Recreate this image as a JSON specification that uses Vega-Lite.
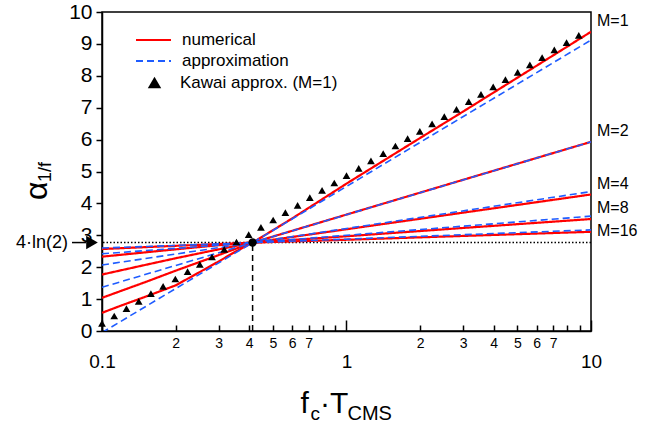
{
  "$schema": "https://vega.github.io/schema/vega-lite/v6.json",
  "width": 489,
  "height": 319,
  "autosize": {"type": "none"},
  "padding": {"left": 102, "top": 12, "right": 67, "bottom": 97},
  "config": {
    "view": {"stroke": "black", "strokeWidth": 1.5},
    "font": "Liberation Sans",
    "axis": {"grid": false, "domainColor": "black", "domainWidth": 1.5, "tickColor": "black", "tickWidth": 1.5, "labelColor": "black", "labelFont": "Liberation Sans"},
    "legend": {"labelFont": "Liberation Sans", "labelColor": "black"}
  },
  "datasets": {
    "one": [{}],
    "lines": [
      {"s": "numerical", "M": 1, "x": 0.1, "y": 0.57},
      {"s": "numerical", "M": 1, "x": 0.12, "y": 0.80},
      {"s": "numerical", "M": 1, "x": 0.15, "y": 1.07},
      {"s": "numerical", "M": 1, "x": 0.2, "y": 1.43},
      {"s": "numerical", "M": 1, "x": 0.25, "y": 1.84},
      {"s": "numerical", "M": 1, "x": 0.3, "y": 2.18},
      {"s": "numerical", "M": 1, "x": 0.35, "y": 2.48},
      {"s": "numerical", "M": 1, "x": 0.413, "y": 2.77},
      {"s": "numerical", "M": 1, "x": 0.6, "y": 3.53},
      {"s": "numerical", "M": 1, "x": 1, "y": 4.62},
      {"s": "numerical", "M": 1, "x": 2, "y": 6.05},
      {"s": "numerical", "M": 1, "x": 3, "y": 6.88},
      {"s": "numerical", "M": 1, "x": 5, "y": 7.94},
      {"s": "numerical", "M": 1, "x": 10, "y": 9.38},
      {"s": "numerical", "M": 2, "x": 0.1, "y": 1.04},
      {"s": "numerical", "M": 2, "x": 0.15, "y": 1.53},
      {"s": "numerical", "M": 2, "x": 0.2, "y": 1.89},
      {"s": "numerical", "M": 2, "x": 0.25, "y": 2.16},
      {"s": "numerical", "M": 2, "x": 0.3, "y": 2.38},
      {"s": "numerical", "M": 2, "x": 0.35, "y": 2.57},
      {"s": "numerical", "M": 2, "x": 0.413, "y": 2.77},
      {"s": "numerical", "M": 2, "x": 1, "y": 3.65},
      {"s": "numerical", "M": 2, "x": 3, "y": 4.74},
      {"s": "numerical", "M": 2, "x": 10, "y": 5.93},
      {"s": "numerical", "M": 4, "x": 0.1, "y": 1.77},
      {"s": "numerical", "M": 4, "x": 0.15, "y": 2.07},
      {"s": "numerical", "M": 4, "x": 0.2, "y": 2.28},
      {"s": "numerical", "M": 4, "x": 0.3, "y": 2.56},
      {"s": "numerical", "M": 4, "x": 0.413, "y": 2.77},
      {"s": "numerical", "M": 4, "x": 1, "y": 3.19},
      {"s": "numerical", "M": 4, "x": 3, "y": 3.71},
      {"s": "numerical", "M": 4, "x": 10, "y": 4.28},
      {"s": "numerical", "M": 8, "x": 0.1, "y": 2.33},
      {"s": "numerical", "M": 8, "x": 0.2, "y": 2.56},
      {"s": "numerical", "M": 8, "x": 0.3, "y": 2.69},
      {"s": "numerical", "M": 8, "x": 0.413, "y": 2.77},
      {"s": "numerical", "M": 8, "x": 1, "y": 2.97},
      {"s": "numerical", "M": 8, "x": 3, "y": 3.23},
      {"s": "numerical", "M": 8, "x": 10, "y": 3.51},
      {"s": "numerical", "M": 16, "x": 0.1, "y": 2.57},
      {"s": "numerical", "M": 16, "x": 0.2, "y": 2.67},
      {"s": "numerical", "M": 16, "x": 0.413, "y": 2.77},
      {"s": "numerical", "M": 16, "x": 1, "y": 2.86},
      {"s": "numerical", "M": 16, "x": 3, "y": 2.98},
      {"s": "numerical", "M": 16, "x": 10, "y": 3.11},
      {"s": "approximation", "M": 1, "x": 0.1, "y": -0.05},
      {"s": "approximation", "M": 1, "x": 0.413, "y": 2.77},
      {"s": "approximation", "M": 1, "x": 10, "y": 9.12},
      {"s": "approximation", "M": 2, "x": 0.1, "y": 1.37},
      {"s": "approximation", "M": 2, "x": 0.413, "y": 2.77},
      {"s": "approximation", "M": 2, "x": 10, "y": 5.93},
      {"s": "approximation", "M": 4, "x": 0.1, "y": 2.07},
      {"s": "approximation", "M": 4, "x": 0.413, "y": 2.77},
      {"s": "approximation", "M": 4, "x": 10, "y": 4.37},
      {"s": "approximation", "M": 8, "x": 0.1, "y": 2.42},
      {"s": "approximation", "M": 8, "x": 0.413, "y": 2.77},
      {"s": "approximation", "M": 8, "x": 10, "y": 3.60},
      {"s": "approximation", "M": 16, "x": 0.1, "y": 2.60},
      {"s": "approximation", "M": 16, "x": 0.413, "y": 2.77},
      {"s": "approximation", "M": 16, "x": 10, "y": 3.17}
    ],
    "kawai": [
      {"k": "Kawai approx. (M=1)", "x": 0.1, "y": 0.24},
      {"k": "Kawai approx. (M=1)", "x": 0.1122, "y": 0.47},
      {"k": "Kawai approx. (M=1)", "x": 0.1259, "y": 0.70},
      {"k": "Kawai approx. (M=1)", "x": 0.1413, "y": 0.93},
      {"k": "Kawai approx. (M=1)", "x": 0.1585, "y": 1.17},
      {"k": "Kawai approx. (M=1)", "x": 0.1778, "y": 1.40},
      {"k": "Kawai approx. (M=1)", "x": 0.1995, "y": 1.63},
      {"k": "Kawai approx. (M=1)", "x": 0.2239, "y": 1.86},
      {"k": "Kawai approx. (M=1)", "x": 0.2512, "y": 2.09},
      {"k": "Kawai approx. (M=1)", "x": 0.2818, "y": 2.32},
      {"k": "Kawai approx. (M=1)", "x": 0.3162, "y": 2.56},
      {"k": "Kawai approx. (M=1)", "x": 0.3548, "y": 2.79},
      {"k": "Kawai approx. (M=1)", "x": 0.3981, "y": 3.02},
      {"k": "Kawai approx. (M=1)", "x": 0.4467, "y": 3.25},
      {"k": "Kawai approx. (M=1)", "x": 0.5012, "y": 3.48},
      {"k": "Kawai approx. (M=1)", "x": 0.5623, "y": 3.71},
      {"k": "Kawai approx. (M=1)", "x": 0.6310, "y": 3.94},
      {"k": "Kawai approx. (M=1)", "x": 0.7079, "y": 4.18},
      {"k": "Kawai approx. (M=1)", "x": 0.7943, "y": 4.41},
      {"k": "Kawai approx. (M=1)", "x": 0.8913, "y": 4.64},
      {"k": "Kawai approx. (M=1)", "x": 1.0, "y": 4.87},
      {"k": "Kawai approx. (M=1)", "x": 1.122, "y": 5.10},
      {"k": "Kawai approx. (M=1)", "x": 1.259, "y": 5.33},
      {"k": "Kawai approx. (M=1)", "x": 1.413, "y": 5.56},
      {"k": "Kawai approx. (M=1)", "x": 1.585, "y": 5.80},
      {"k": "Kawai approx. (M=1)", "x": 1.778, "y": 6.03},
      {"k": "Kawai approx. (M=1)", "x": 1.995, "y": 6.26},
      {"k": "Kawai approx. (M=1)", "x": 2.239, "y": 6.49},
      {"k": "Kawai approx. (M=1)", "x": 2.512, "y": 6.72},
      {"k": "Kawai approx. (M=1)", "x": 2.818, "y": 6.95},
      {"k": "Kawai approx. (M=1)", "x": 3.162, "y": 7.19},
      {"k": "Kawai approx. (M=1)", "x": 3.548, "y": 7.42},
      {"k": "Kawai approx. (M=1)", "x": 3.981, "y": 7.65},
      {"k": "Kawai approx. (M=1)", "x": 4.467, "y": 7.88},
      {"k": "Kawai approx. (M=1)", "x": 5.012, "y": 8.11},
      {"k": "Kawai approx. (M=1)", "x": 5.623, "y": 8.34},
      {"k": "Kawai approx. (M=1)", "x": 6.310, "y": 8.57},
      {"k": "Kawai approx. (M=1)", "x": 7.079, "y": 8.81},
      {"k": "Kawai approx. (M=1)", "x": 7.943, "y": 9.04},
      {"k": "Kawai approx. (M=1)", "x": 8.913, "y": 9.27}
    ],
    "mlab": [
      {"label": "M=1", "y": 9.72},
      {"label": "M=2", "y": 6.27},
      {"label": "M=4", "y": 4.6},
      {"label": "M=8", "y": 3.87},
      {"label": "M=16", "y": 3.13}
    ]
  },
  "resolve": {"axis": {"x": "independent", "y": "independent"}},
  "layer": [
    {
      "data": {"name": "one"},
      "mark": {"type": "rule", "strokeDash": [1.5, 2], "strokeWidth": 1.5, "color": "black"},
      "encoding": {
        "y": {"datum": 2.7726, "type": "quantitative", "scale": {"domain": [0, 10], "nice": false, "zero": false}, "axis": null}
      }
    },
    {
      "data": {"name": "lines"},
      "transform": [{"filter": "datum.s == 'numerical'"}],
      "mark": {"type": "line", "strokeWidth": 2.2, "clip": true},
      "encoding": {
        "x": {"field": "x", "type": "quantitative", "scale": {"type": "log", "domain": [0.1, 10], "nice": false},
              "axis": {"orient": "bottom", "values": [0.1, 1, 10], "tickSize": -11, "labelFontSize": 19, "labelPadding": 32, "format": "~g", "labelFlush": false, "labelOverlap": false, "labelBound": false, "title": null}},
        "y": {"field": "y", "type": "quantitative",
              "axis": {"orient": "left", "values": [0,1,2,3,4,5,6,7,8,9,10], "tickSize": 6, "labelFontSize": 21, "labelPadding": 4, "title": null}},
        "detail": {"field": "M"},
        "color": {"field": "s", "type": "nominal", "scale": {"domain": ["numerical", "approximation"], "range": ["#ff0000", "#1f5cff"]},
                  "legend": {"orient": "none", "legendX": 33, "legendY": 17.5, "title": null, "labelFontSize": 17, "symbolSize": 1225, "symbolStrokeWidth": 2, "labelOffset": 10, "clipHeight": 21, "rowPadding": 0}},
        "strokeDash": {"field": "s", "type": "nominal", "scale": {"domain": ["numerical", "approximation"], "range": [[1, 0], [7, 4]]},
                  "legend": {"orient": "none", "legendX": 33, "legendY": 17.5, "title": null, "labelFontSize": 17, "symbolSize": 1225, "symbolStrokeWidth": 2, "labelOffset": 10, "clipHeight": 21, "rowPadding": 0}}
      }
    },
    {
      "data": {"name": "lines"},
      "transform": [{"filter": "datum.s == 'approximation'"}],
      "mark": {"type": "line", "strokeWidth": 1.6, "clip": true},
      "encoding": {
        "x": {"field": "x", "type": "quantitative",
              "axis": {"orient": "bottom", "values": [0.2,0.3,0.4,0.5,0.6,0.7,0.8,0.9,2,3,4,5,6,7,8,9], "tickSize": -6, "labelFontSize": 14, "labelPadding": 11, "domain": false,
                       "labelExpr": "datum.value < 1 ? (datum.value < 0.75 ? format(datum.value*10, 'd') : '') : (datum.value < 7.5 ? format(datum.value, 'd') : '')",
                       "labelFlush": false, "labelOverlap": false, "labelBound": false, "title": null}},
        "y": {"field": "y", "type": "quantitative", "axis": null},
        "detail": {"field": "M"},
        "color": {"field": "s", "type": "nominal",
                  "legend": {"orient": "none", "legendX": 33, "legendY": 17.5, "title": null, "labelFontSize": 17, "symbolSize": 1225, "symbolStrokeWidth": 2, "labelOffset": 10, "clipHeight": 21, "rowPadding": 0}},
        "strokeDash": {"field": "s", "type": "nominal",
                  "legend": {"orient": "none", "legendX": 33, "legendY": 17.5, "title": null, "labelFontSize": 17, "symbolSize": 1225, "symbolStrokeWidth": 2, "labelOffset": 10, "clipHeight": 21, "rowPadding": 0}}
      }
    },
    {
      "data": {"name": "kawai"},
      "mark": {"type": "point", "filled": true, "color": "black", "opacity": 1, "size": 60},
      "encoding": {
        "x": {"field": "x", "type": "quantitative", "axis": null},
        "y": {"field": "y", "type": "quantitative", "axis": null},
        "shape": {"field": "k", "type": "nominal", "scale": {"domain": ["Kawai approx. (M=1)"], "range": ["triangle-up"]},
                  "legend": {"orient": "none", "legendX": 44, "legendY": 62, "title": null, "labelFontSize": 17, "symbolSize": 180, "symbolFillColor": "black", "symbolStrokeColor": "black", "labelOffset": 17}}
      }
    },
    {
      "data": {"name": "one"},
      "mark": {"type": "rule", "strokeDash": [6, 4], "strokeWidth": 1.5, "color": "black"},
      "encoding": {
        "x": {"datum": 0.413, "type": "quantitative", "axis": null},
        "y": {"datum": 0, "type": "quantitative", "axis": null},
        "y2": {"datum": 2.7726}
      }
    },
    {
      "data": {"name": "one"},
      "mark": {"type": "point", "filled": true, "color": "black", "opacity": 1, "size": 70, "shape": "circle"},
      "encoding": {
        "x": {"datum": 0.413, "type": "quantitative", "axis": null},
        "y": {"datum": 2.7726, "type": "quantitative", "axis": null}
      }
    },
    {
      "data": {"name": "mlab"},
      "mark": {"type": "text", "align": "left", "baseline": "middle", "dx": 6, "fontSize": 16, "font": "Liberation Sans", "color": "black"},
      "encoding": {
        "x": {"datum": 10, "type": "quantitative", "axis": null},
        "y": {"field": "y", "type": "quantitative", "axis": null},
        "text": {"field": "label"}
      }
    },
    {
      "data": {"name": "one"},
      "mark": {"type": "text", "align": "right", "baseline": "middle", "fontSize": 18, "font": "Liberation Sans", "color": "black"},
      "encoding": {
        "x": {"datum": 0.07262, "type": "quantitative", "axis": null},
        "y": {"datum": 2.7726, "type": "quantitative", "axis": null},
        "text": {"value": "4·ln(2)"}
      }
    },
    {
      "data": {"name": "one"},
      "mark": {"type": "rule", "strokeWidth": 1.5, "color": "black"},
      "encoding": {
        "x": {"datum": 0.07539, "type": "quantitative", "axis": null},
        "x2": {"datum": 0.08602},
        "y": {"datum": 2.7726, "type": "quantitative", "axis": null}
      }
    },
    {
      "data": {"name": "one"},
      "mark": {"type": "point", "filled": true, "color": "black", "opacity": 1, "size": 180, "shape": "triangle-right"},
      "encoding": {
        "x": {"datum": 0.09101, "type": "quantitative", "axis": null},
        "y": {"datum": 2.7726, "type": "quantitative", "axis": null}
      }
    },
    {
      "data": {"name": "one"},
      "mark": {"type": "text", "align": "left", "baseline": "alphabetic", "fontSize": 30, "font": "Liberation Sans", "color": "black", "dx": -46, "dy": 82},
      "encoding": {
        "x": {"datum": 1, "type": "quantitative", "axis": null},
        "y": {"datum": 0, "type": "quantitative", "axis": null},
        "text": {"value": "f"}
      }
    },
    {
      "data": {"name": "one"},
      "mark": {"type": "text", "align": "left", "baseline": "alphabetic", "fontSize": 19, "font": "Liberation Sans", "color": "black", "dx": -36, "dy": 89},
      "encoding": {
        "x": {"datum": 1, "type": "quantitative", "axis": null},
        "y": {"datum": 0, "type": "quantitative", "axis": null},
        "text": {"value": "c"}
      }
    },
    {
      "data": {"name": "one"},
      "mark": {"type": "text", "align": "left", "baseline": "alphabetic", "fontSize": 30, "font": "Liberation Sans", "color": "black", "dx": -26.5, "dy": 82},
      "encoding": {
        "x": {"datum": 1, "type": "quantitative", "axis": null},
        "y": {"datum": 0, "type": "quantitative", "axis": null},
        "text": {"value": "·T"}
      }
    },
    {
      "data": {"name": "one"},
      "mark": {"type": "text", "align": "left", "baseline": "alphabetic", "fontSize": 20, "font": "Liberation Sans", "color": "black", "dx": 1, "dy": 89},
      "encoding": {
        "x": {"datum": 1, "type": "quantitative", "axis": null},
        "y": {"datum": 0, "type": "quantitative", "axis": null},
        "text": {"value": "CMS"}
      }
    },
    {
      "data": {"name": "one"},
      "mark": {"type": "text", "align": "left", "baseline": "alphabetic", "fontSize": 32, "angle": 270, "font": "Liberation Sans", "color": "black"},
      "encoding": {
        "x": {"datum": 0.05956, "type": "quantitative", "axis": null},
        "y": {"datum": 4.11, "type": "quantitative", "axis": null},
        "text": {"value": "α"}
      }
    },
    {
      "data": {"name": "one"},
      "mark": {"type": "text", "align": "left", "baseline": "alphabetic", "fontSize": 18, "angle": 270, "font": "Liberation Sans", "color": "black"},
      "encoding": {
        "x": {"datum": 0.06184, "type": "quantitative", "axis": null},
        "y": {"datum": 4.67, "type": "quantitative", "axis": null},
        "text": {"value": "1/f"}
      }
    }
  ]
}
